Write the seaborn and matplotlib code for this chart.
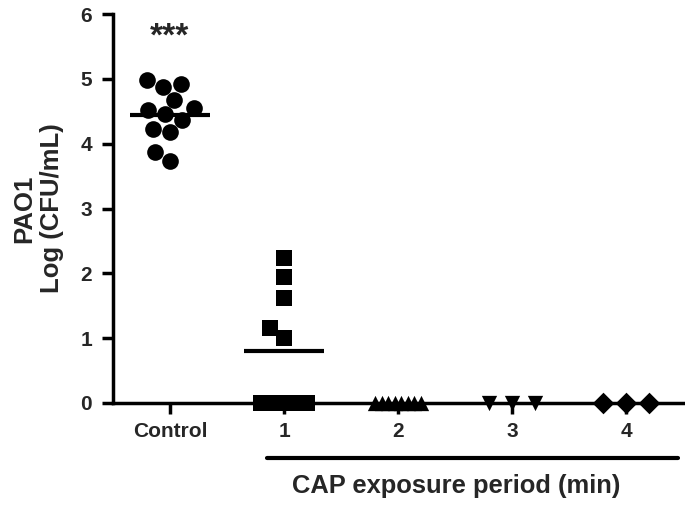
import matplotlib
matplotlib.use("Agg")
import matplotlib.pyplot as plt
import seaborn as sns
import numpy as np
import pandas as pd

# categories and values (log CFU/mL)
groups = ["Control", "1", "2", "3", "4"]
control = [4.92, 4.98, 4.88, 4.68, 4.55, 4.52, 4.46, 4.37, 4.23, 4.18, 3.87, 3.73]
cap_1min = [2.24, 1.94, 1.62, 1.16, 1.00, 0, 0, 0, 0, 0]
cap_2min = [0, 0, 0, 0, 0, 0, 0, 0]
cap_3min = [0, 0, 0]
cap_4min = [0, 0, 0]
markers = ["o", "s", "^", "v", "D"]
marker_size = [12, 12, 11, 11, 11]

sns.set_style("ticks")
plt.rcParams["font.family"] = ["Liberation Sans", "DejaVu Sans"]
plt.rcParams["font.weight"] = "bold"
plt.rcParams["axes.labelweight"] = "bold"

fig = plt.figure(figsize=(6.85, 5.05), dpi=100)
ax = fig.add_axes([0.165, 0.202, 0.832, 0.770])

series = [control, cap_1min, cap_2min, cap_3min, cap_4min]
for i, vals in enumerate(series):
    vals = np.array(vals, dtype=float)
    above = vals[vals > 0]
    zeros = vals[vals == 0]
    if len(above):
        df = pd.DataFrame({"pos": [i] * len(above), "val": above})
        sns.swarmplot(data=df, x="pos", y="val", native_scale=True, orient="x",
                      marker=markers[i], size=marker_size[i], color="black",
                      linewidth=0, ax=ax, clip_on=False, zorder=3)
    if len(zeros):
        # values at the detection limit sit side by side on the axis
        offs = np.linspace(-0.2, 0.2, len(zeros))
        sns.scatterplot(x=i + offs, y=zeros, marker=markers[i], s=marker_size[i] ** 2,
                        color="black", linewidth=0, ax=ax, clip_on=False, zorder=3,
                        legend=False)
    if vals.mean() > 0:
        ax.hlines(vals.mean(), i - 0.35, i + 0.35, color="black", lw=3, zorder=4)

ax.set_xlim(-0.5, 4.5)
ax.set_ylim(0, 6)
ax.set_yticks(range(0, 7))
ax.set_xticks(range(len(groups)))
ax.set_xticklabels(groups)
ax.set_xlabel("")
ax.set_ylabel("PAO1\nLog (CFU/mL)", fontsize=18.5)
ax.yaxis.set_label_coords(-0.086, 0.5)
ax.tick_params(axis="both", labelsize=15, width=2.5, length=8, color="black")
ax.tick_params(axis="x", pad=6)
ax.tick_params(axis="y", pad=7)
for lab in ax.get_xticklabels() + ax.get_yticklabels():
    lab.set_fontweight("bold")

sns.despine(ax=ax)
for side in ["left", "bottom"]:
    ax.spines[side].set_linewidth(2.5)
    ax.spines[side].set_color("black")

ax.text(0, 5.64, "***", ha="center", va="center", fontsize=24)

# bracket under the CAP groups
ax.plot([0.85, 4.46], [-0.85, -0.85], color="black", lw=3, clip_on=False)
ax.text(2.51, -1.28, "CAP exposure period (min)", ha="center", va="center", fontsize=18.4)

fig.savefig("out.png", dpi=100)
